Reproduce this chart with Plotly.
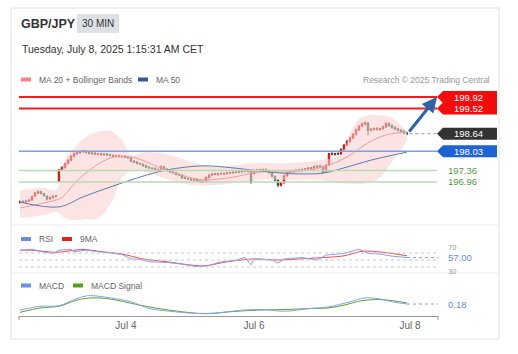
import plotly.graph_objects as go

W, H = 518, 354
def px(x): return x / W
def py(y): return 1 - y / H

FONT = "Arial, Liberation Sans, sans-serif"

# ---------------- data ----------------
opens = [196.24,196.29,196.26,196.29,196.33,196.46,196.57,196.63,196.56,196.47,
         196.37,196.41,196.48,196.98,197.37,197.46,197.60,197.71,197.85,197.94,
         197.97,198.01,198.04,197.99,197.94,197.97,197.92,197.95,197.90,197.94,
         197.91,197.89,197.85,197.88,197.83,197.86,197.83,197.80,197.69,197.66,
         197.61,197.58,197.53,197.48,197.45,197.44,197.37,197.40,197.49,197.41,
         197.36,197.31,197.28,197.23,197.20,197.11,197.08,197.07,197.02,197.05,
         197.01,196.95,196.98,197.11,197.20,197.25,197.21,197.26,197.23,197.25,
         197.29,197.27,197.31,197.29,197.31,197.35,197.32,197.34,197.25,197.35,
         197.39,197.36,197.40,197.36,197.28,197.16,197.03,196.84,196.93,197.17,
         197.29,197.32,197.34,197.39,197.36,197.39,197.41,197.46,197.43,197.51,
         197.47,197.50,197.29,197.55,197.96,197.91,197.96,197.93,198.09,198.24,
         198.37,198.49,198.61,198.77,198.90,198.97,199.02,198.76,198.79,198.83,
         198.78,198.81,198.87,199.00,198.93,198.86,198.81,198.77,198.73,198.67]
closes = [196.28,196.25,196.30,196.33,196.45,196.58,196.62,196.55,196.48,196.36,
          196.42,196.47,196.46,197.38,197.47,197.60,197.72,197.86,197.95,197.98,
          198.02,198.04,197.98,197.95,197.97,197.93,197.94,197.91,197.93,197.90,
          197.88,197.86,197.87,197.84,197.85,197.82,197.80,197.68,197.65,197.60,
          197.58,197.52,197.47,197.45,197.43,197.38,197.40,197.50,197.40,197.35,
          197.30,197.28,197.22,197.20,197.10,197.08,197.06,197.03,197.05,197.00,
          196.96,196.98,197.12,197.20,197.24,197.22,197.25,197.24,197.26,197.28,
          197.27,197.30,197.29,197.32,197.34,197.33,197.36,196.95,197.36,197.38,
          197.36,197.40,197.35,197.28,197.15,197.02,196.85,196.92,197.18,197.30,
          197.33,197.35,197.38,197.36,197.40,197.42,197.45,197.43,197.50,197.48,
          197.52,197.28,197.55,197.95,197.92,197.95,197.93,198.10,198.25,198.38,
          198.50,198.62,198.78,198.90,198.98,199.03,198.75,198.80,198.82,198.79,
          198.82,198.88,199.00,198.92,198.85,198.80,198.76,198.72,198.66,198.64]
highs = [196.31,196.32,196.33,196.36,196.49,196.62,196.67,196.65,196.58,196.50,
         196.45,196.50,196.51,197.41,197.51,197.64,197.76,197.90,197.99,198.02,
         198.06,198.08,198.07,198.02,198.00,198.00,197.97,197.98,197.96,197.97,
         197.94,197.92,197.90,197.91,197.88,197.89,197.86,197.83,197.72,197.69,
         197.64,197.61,197.56,197.51,197.48,197.47,197.43,197.54,197.52,197.44,
         197.39,197.34,197.31,197.26,197.23,197.14,197.11,197.10,197.08,197.08,
         197.04,197.01,197.15,197.23,197.27,197.28,197.28,197.29,197.29,197.31,
         197.32,197.33,197.34,197.35,197.37,197.38,197.39,197.37,197.39,197.42,
         197.42,197.43,197.43,197.39,197.31,197.19,197.06,196.96,197.21,197.33,
         197.36,197.38,197.41,197.42,197.43,197.45,197.48,197.49,197.53,197.55,
         197.56,197.53,197.58,197.98,197.99,197.98,197.99,198.13,198.28,198.42,
         198.54,198.66,198.82,198.94,199.03,199.07,199.05,198.84,198.86,198.87,
         198.85,198.92,199.04,199.03,198.96,198.90,198.84,198.80,198.76,198.70]
lows = [196.20,196.22,196.22,196.27,196.31,196.44,196.54,196.52,196.44,196.31,
        196.33,196.38,196.42,196.94,197.33,197.43,197.56,197.68,197.82,197.91,
        197.94,197.98,197.95,197.92,197.91,197.90,197.89,197.88,197.87,197.87,
        197.85,197.83,197.82,197.81,197.80,197.79,197.77,197.64,197.62,197.57,
        197.55,197.49,197.44,197.42,197.40,197.35,197.34,197.37,197.37,197.32,
        197.27,197.25,197.19,197.17,197.07,197.05,197.03,197.00,196.99,196.97,
        196.93,196.92,196.95,197.08,197.17,197.19,197.18,197.21,197.20,197.22,
        197.24,197.24,197.26,197.26,197.28,197.30,197.29,196.90,197.22,197.32,
        197.33,197.33,197.32,197.25,197.12,196.98,196.78,196.80,196.90,197.14,
        197.26,197.29,197.31,197.33,197.33,197.36,197.38,197.40,197.40,197.45,
        197.44,197.25,197.26,197.52,197.89,197.88,197.90,197.90,198.06,198.21,
        198.33,198.45,198.58,198.73,198.86,198.93,198.58,198.72,198.75,198.75,
        198.74,198.78,198.84,198.88,198.81,198.76,198.72,198.69,198.62,198.59]
candle_idx = list(range(len(closes)))

ma20_x = [0, 5, 12, 14, 20, 30, 37, 47, 56, 62, 71, 80, 91, 101, 109, 116, 122, 129]
ma20 = [196.05, 196.16, 196.33, 196.42, 197.10, 197.79, 197.83, 197.45, 197.13, 197.03,
        197.13, 197.31, 197.31, 197.48, 197.83, 198.32, 198.60, 198.70]
ma50_x = [0, 13, 21, 30, 40, 49, 61, 71, 80, 87, 93, 101, 109, 117, 129]
ma50 = [196.26, 196.09, 196.44, 196.78, 197.13, 197.38, 197.52, 197.45, 197.34, 197.27,
        197.24, 197.27, 197.48, 197.72, 198.00]
bb_x = [0, 8, 12, 15, 18, 22, 26, 30, 34, 37, 42, 50, 58, 65, 72, 80, 90, 100, 104,
        107, 111, 114, 119, 124, 127, 129]
bb_upper = [196.68, 196.75, 196.68, 197.72, 198.14, 198.53, 198.70, 198.74, 198.42, 197.90,
            198.00, 197.90, 197.62, 197.48, 197.55, 197.62, 197.62, 197.72, 197.79,
            197.90, 198.87, 199.22, 199.29, 199.19, 198.94, 198.67]
bb_lower = [195.70, 195.81, 195.91, 195.70, 195.63, 195.67, 195.70, 196.16, 197.10, 197.38,
            197.31, 197.03, 196.85, 196.85, 196.92, 197.03, 197.03, 197.03, 196.96,
            196.92, 196.89, 196.89, 197.03, 197.66, 198.07, 198.42]

rsi_x = [0, 4, 8, 11, 13, 17, 18, 22, 26, 30, 34, 37, 40, 43, 49, 54, 59, 63, 66, 72,
         75, 77, 78, 84, 86, 88, 94, 99, 102, 108, 113, 116, 120, 124, 129]
rsi = [78, 81, 72, 69, 78, 81, 74, 78, 74, 71, 66, 53, 52, 45, 43, 38, 31, 34, 43, 50,
       57, 36, 53, 50, 41, 53, 57, 50, 64, 69, 81, 69, 67, 61, 57]
rsi_ma_x = [0, 4, 12, 21, 27, 34, 41, 49, 61, 69, 78, 86, 97, 108, 114, 121, 129]
rsi_ma = [78, 78, 72, 80, 74, 67, 53, 45, 33, 45, 53, 50, 55, 62, 75, 72, 62]

macd_x = [0, 7, 13, 19, 23, 30, 37, 43, 50, 59, 66, 74, 81, 88, 97, 103, 110, 115, 120, 124, 129]
macd = [0.07, 0.14, 0.15, 0.28, 0.33, 0.29, 0.22, 0.10, 0.05, 0.01, 0.02, 0.07, 0.08,
        0.05, 0.10, 0.13, 0.22, 0.29, 0.27, 0.22, 0.18]
sig_x = [0, 7, 13, 19, 24, 30, 39, 46, 54, 62, 70, 79, 88, 97, 103, 108, 114, 120, 124, 129]
sig = [0.03, 0.11, 0.14, 0.25, 0.29, 0.27, 0.17, 0.10, 0.04, 0.005, 0.04, 0.07, 0.08,
       0.10, 0.11, 0.16, 0.24, 0.26, 0.24, 0.20]

resistances = [199.92, 199.52]
pivot = 198.03
supports = [197.36, 196.96]
last_price = 198.64
rsi_levels = [70, 50, 30]
rsi_last = 57.00
macd_last = 0.18
tick_pos = [35.3, 78, 130]
tick_text = ["Jul 4", "Jul 6", "Jul 8"]

# ---------------- geometry ----------------
X_RANGE = [-0.33, 139.33]          # plot spans px 19..438
def xi(pxv): return X_RANGE[0] + (pxv - 19) / (438 - 19) * (X_RANGE[1] - X_RANGE[0])

fig = go.Figure()

# Bollinger band fill
fig.add_trace(go.Scatter(x=bb_x, y=bb_upper, mode="lines", line=dict(width=0, shape="spline", smoothing=1),
                         hoverinfo="skip", xaxis="x", yaxis="y"))
fig.add_trace(go.Scatter(x=bb_x, y=bb_lower, mode="lines", line=dict(width=0, shape="spline", smoothing=1),
                         fill="tonexty", fillcolor="rgba(252,205,205,0.55)", hoverinfo="skip",
                         xaxis="x", yaxis="y"))
fig.add_trace(go.Scatter(x=ma20_x, y=ma20, mode="lines",
                         line=dict(color="#f49a9a", width=1, shape="spline", smoothing=1),
                         xaxis="x", yaxis="y"))
fig.add_trace(go.Scatter(x=ma50_x, y=ma50, mode="lines",
                         line=dict(color="#5a7db5", width=1, shape="spline", smoothing=1),
                         xaxis="x", yaxis="y"))
fig.add_trace(go.Candlestick(x=candle_idx, open=opens, high=highs, low=lows, close=closes,
                             increasing=dict(line=dict(color="#b81414", width=1), fillcolor="#ec1f1c"),
                             decreasing=dict(line=dict(color="#27532a", width=1), fillcolor="#367a36"),
                             whiskerwidth=0, xaxis="x", yaxis="y"))

# RSI
fig.add_trace(go.Scatter(x=rsi_ma_x, y=rsi_ma, mode="lines",
                         line=dict(color="#f04848", width=1, shape="spline", smoothing=0.8),
                         xaxis="x", yaxis="y2"))
fig.add_trace(go.Scatter(x=rsi_x, y=rsi, mode="lines",
                         line=dict(color="#86a2ee", width=1),
                         xaxis="x", yaxis="y2"))
# MACD
fig.add_trace(go.Scatter(x=sig_x, y=sig, mode="lines",
                         line=dict(color="#5ea131", width=1, shape="spline", smoothing=1),
                         xaxis="x", yaxis="y3"))
fig.add_trace(go.Scatter(x=macd_x, y=macd, mode="lines",
                         line=dict(color="#86a2ee", width=1, shape="spline", smoothing=1),
                         xaxis="x", yaxis="y3"))

shapes = []
ann = []

# card & separators
shapes.append(dict(type="rect", xref="paper", yref="paper", x0=px(11), x1=px(499), y0=py(339), y1=py(8),
                   line=dict(color="#e2e2e2", width=1), fillcolor="rgba(0,0,0,0)", layer="below"))
for yy in (225, 273):
    shapes.append(dict(type="line", xref="paper", yref="paper", x0=px(11), x1=px(499), y0=py(yy), y1=py(yy),
                       line=dict(color="#ececec", width=1)))

# header
shapes.append(dict(type="rect", xref="paper", yref="paper", x0=px(77), x1=px(119), y0=py(33), y1=py(14),
                   fillcolor="#dde0e5", line=dict(width=0)))
ann.append(dict(text="<b>GBP/JPY</b>", x=px(19), y=py(24), xanchor="left", yanchor="middle",
                font=dict(size=12.5, color="#333", family=FONT)))
ann.append(dict(text="30 MIN", x=px(98), y=py(23.5), xanchor="center", yanchor="middle",
                font=dict(size=10, color="#333", family=FONT)))
ann.append(dict(text="Tuesday, July 8, 2025 1:15:31 AM CET", x=px(20), y=py(49), xanchor="left",
                yanchor="middle", font=dict(size=10.5, color="#333", family=FONT)))

# legends
def legend(x_rect, y, color, label):
    shapes.append(dict(type="rect", xref="paper", yref="paper", x0=px(x_rect), x1=px(x_rect + 10),
                       y0=py(y + 2), y1=py(y - 2), fillcolor=color, line=dict(width=0)))
    ann.append(dict(text=label, x=px(x_rect + 16), y=py(y), xanchor="left", yanchor="middle",
                    font=dict(size=8.5, color="#666", family=FONT)))
legend(21, 79.5, "#f98383", "MA 20 + Bollinger Bands")
legend(138, 79.5, "#2f5b9c", "MA 50")
legend(21, 239, "#6a8ee6", "RSI")
legend(62, 239, "#ee1c1c", "9MA")
legend(21, 285.5, "#6a8ee6", "MACD")
legend(73, 285.5, "#52a01e", "MACD Signal")
ann.append(dict(text="Research © 2025 Trading Central", x=px(492), y=py(79.5), xanchor="right",
                yanchor="middle", font=dict(size=8.5, color="#999", family=FONT)))

# level lines
for v in resistances:
    shapes.append(dict(type="line", xref="paper", yref="y", x0=px(19), x1=px(437), y0=v, y1=v,
                       line=dict(color="#f01d1d", width=1.8)))
shapes.append(dict(type="line", xref="paper", yref="y", x0=px(19), x1=px(437), y0=pivot, y1=pivot,
                   line=dict(color="#7d9ee8", width=1.5)))
for v in supports:
    shapes.append(dict(type="line", xref="paper", yref="y", x0=px(19), x1=px(437), y0=v, y1=v,
                       line=dict(color="#b8dcb2", width=1.5)))
shapes.append(dict(type="line", xref="x", yref="y", x0=candle_idx[-1] + 0.8, x1=xi(437),
                   y0=last_price, y1=last_price, line=dict(color="#999", width=1, dash="dot")))

def label_box(v, color, yref="y"):
    shapes.append(dict(type="path", xref="paper", yref=yref, xsizemode="pixel", ysizemode="pixel",
                       xanchor=px(437), yanchor=v,
                       path="M0,0 L6,6 L60,6 L60,-6 L6,-6 Z", fillcolor=color, line=dict(width=0)))
    ann.append(dict(text=f"{v:.2f}", x=px(468), y=v, yref=yref, xanchor="center", yanchor="middle",
                    font=dict(size=9.5, color="white", family=FONT)))
label_box(resistances[0], "#f20d0d")
label_box(resistances[1], "#f20d0d")
label_box(last_price, "#333333")
label_box(pivot, "#1f62d6")
for v in supports:
    ann.append(dict(text=f"{v:.2f}", x=px(446), y=v, yref="y", xanchor="left", yanchor="middle",
                    font=dict(size=9.5, color="#4f9a3e", family=FONT)))

# arrow
ann.append(dict(text="", x=xi(437), y=resistances[0], xref="x", yref="y", showarrow=True,
                ax=-29, ay=36, arrowhead=2, arrowsize=1, arrowwidth=3, arrowcolor="#2f62a8", standoff=0))

# RSI guides
for v in rsi_levels:
    shapes.append(dict(type="line", xref="paper", yref="y2", x0=px(19), x1=px(438), y0=v, y1=v,
                       line=dict(color="#c8c8c8", width=1, dash="dot")))
ann.append(dict(text="70", x=px(446), y=70, yref="y2", xanchor="left", yanchor="bottom", yshift=-1,
                font=dict(size=7.5, color="#999", family=FONT)))
ann.append(dict(text="30", x=px(446), y=30, yref="y2", xanchor="left", yanchor="top", yshift=2,
                font=dict(size=7.5, color="#999", family=FONT)))
shapes.append(dict(type="line", xref="x", yref="y2", x0=rsi_x[-1], x1=xi(438), y0=rsi[-1], y1=rsi[-1],
                   line=dict(color="#86a2ee", width=1, dash="dot")))
ann.append(dict(text=f"{rsi_last:.2f}", x=px(446), y=rsi_last, yref="y2", xanchor="left", yanchor="middle",
                font=dict(size=9.5, color="#6a8ee6", family=FONT)))
# MACD
shapes.append(dict(type="line", xref="x", yref="y3", x0=macd_x[-1], x1=xi(438), y0=macd[-1], y1=macd[-1],
                   line=dict(color="#86a2ee", width=1, dash="dot")))
ann.append(dict(text=f"{macd_last:.2f}", x=px(446), y=macd_last, yref="y3", xanchor="left", yanchor="middle",
                font=dict(size=9.5, color="#6a8ee6", family=FONT)))

# axis end ticks
for xx in (19, 438):
    shapes.append(dict(type="line", xref="paper", yref="paper", x0=px(xx), x1=px(xx), y0=py(316), y1=py(320),
                       line=dict(color="#999", width=1)))

for a in ann:
    a.setdefault("xref", "paper")
    a.setdefault("yref", "paper")
    a.setdefault("showarrow", False)

hidden = dict(showgrid=False, zeroline=False, showticklabels=False, ticks="", showline=False)
fig.update_layout(
    width=W, height=H, autosize=False,
    margin=dict(l=0, r=0, t=0, b=0),
    paper_bgcolor="white", plot_bgcolor="rgba(0,0,0,0)",
    showlegend=False,
    font=dict(family=FONT),
    xaxis=dict(domain=[px(19), px(438)], range=X_RANGE, anchor="y3", showgrid=False, zeroline=False,
               showline=True, linecolor="#9a9a9a", linewidth=1, ticks="",
               tickmode="array", tickvals=tick_pos, ticktext=tick_text,
               tickfont=dict(size=10, color="#666", family=FONT),
               rangeslider=dict(visible=False), fixedrange=True),
    yaxis=dict(domain=[py(224), py(88)], range=[195.495, 200.234], anchor="x", **hidden),
    yaxis2=dict(domain=[py(271), py(243)], range=[18.6, 98.6], anchor="x", **hidden),
    yaxis3=dict(domain=[py(315.5), py(292)], range=[-0.027, 0.396], anchor="x", **hidden),
    shapes=shapes,
    annotations=ann,
)

fig.write_html("out.html")
